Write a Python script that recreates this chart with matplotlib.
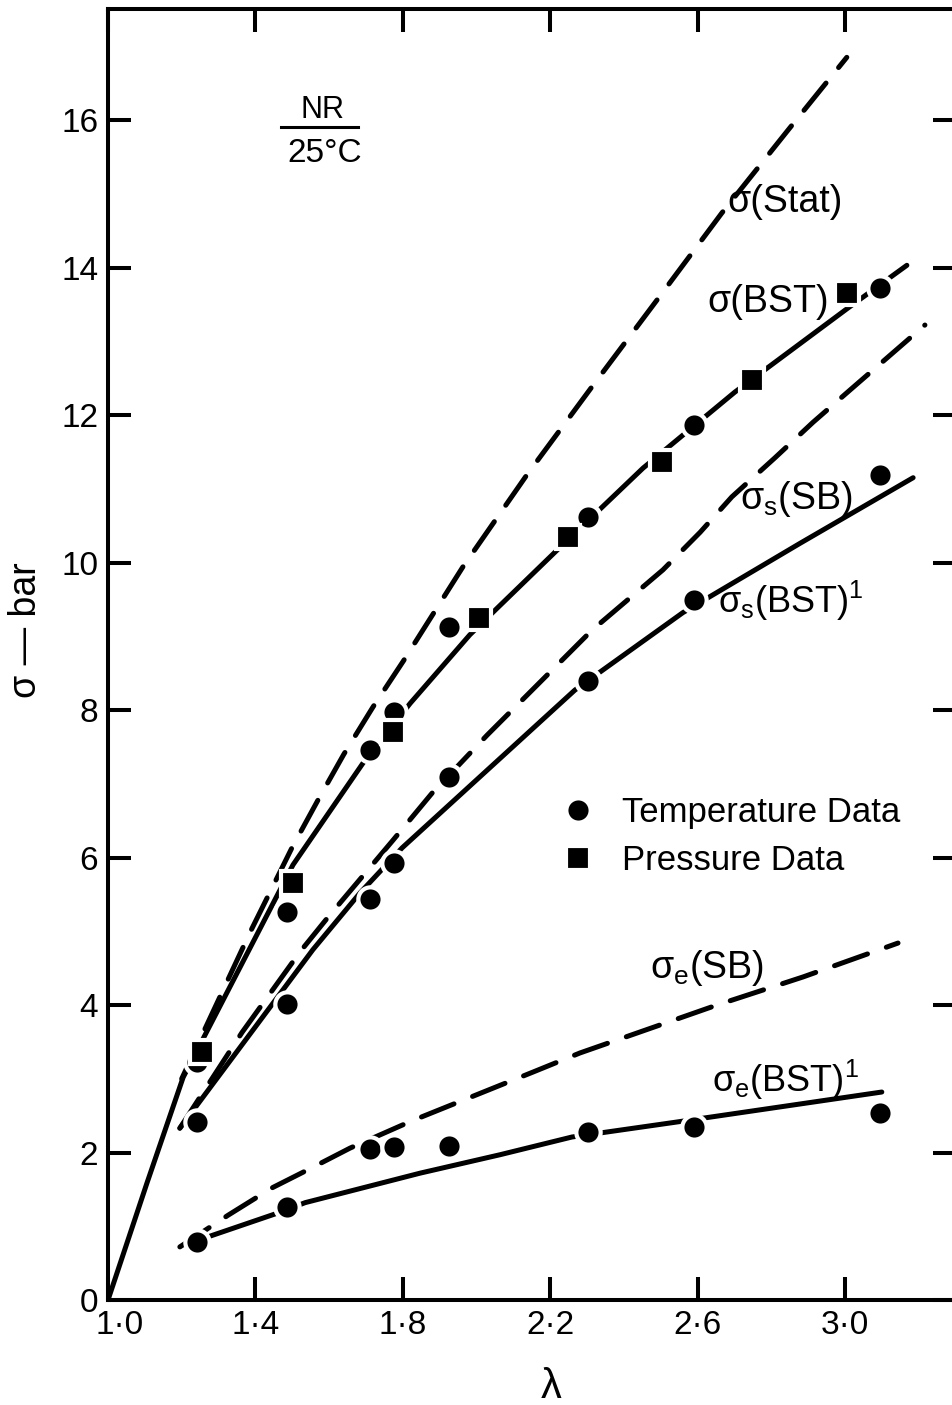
import matplotlib.pyplot as plt
import matplotlib.transforms as mtrans

plt.rcParams['font.family'] = ['Liberation Sans', 'DejaVu Sans']
plt.rcParams['mathtext.fontset'] = 'custom'
plt.rcParams['mathtext.rm'] = 'Liberation Sans'
plt.rcParams['mathtext.it'] = 'Liberation Sans:italic'
plt.rcParams['mathtext.bf'] = 'Liberation Sans:bold'

# theory curves
stat_lam = [1.20, 1.385, 1.499, 1.570, 1.640, 1.719, 1.801, 1.882, 1.963, 2.137, 2.313, 2.490, 2.666, 2.845, 3.005]
stat_sig = [3.00, 4.98, 6.13, 6.78, 7.40, 8.04, 8.66, 9.30, 9.94, 11.19, 12.38, 13.56, 14.74, 15.86, 16.85]

bst_lam = [1.0, 1.106, 1.204, 1.502, 1.692, 1.820, 1.982, 2.056, 2.213, 2.452, 2.701, 3.008, 3.168]
bst_sig = [0.0, 1.59, 3.02, 5.90, 7.28, 8.09, 9.02, 9.38, 10.14, 11.28, 12.31, 13.45, 14.03]

sb_s_lam = [1.195, 1.364, 1.521, 1.597, 1.771, 1.879, 2.029, 2.213, 2.313, 2.506, 2.607, 2.693, 2.810, 2.913, 3.014, 3.217]
sb_s_sig = [2.33, 3.63, 4.72, 5.19, 6.22, 6.87, 7.66, 8.58, 9.08, 9.90, 10.41, 10.89, 11.42, 11.90, 12.34, 13.22]

bst_s_lam = [1.195, 1.556, 1.684, 1.798, 2.267, 2.560, 2.878, 3.185]
bst_s_sig = [2.33, 4.75, 5.52, 6.13, 8.27, 9.32, 10.26, 11.15]

sb_e_lam = [1.195, 1.326, 1.445, 1.556, 1.657, 1.825, 2.153, 2.281, 2.653, 2.886, 3.144]
sb_e_sig = [0.72, 1.15, 1.52, 1.80, 2.06, 2.43, 3.09, 3.35, 4.00, 4.38, 4.84]

bst_e_lam = [1.209, 1.467, 1.535, 1.847, 2.064, 2.259, 2.539, 3.100]
bst_e_sig = [0.75, 1.19, 1.32, 1.72, 1.97, 2.21, 2.41, 2.82]

# temperature data (circles)
temp_lam = [1.242, 1.487, 1.711, 1.776, 1.926, 2.304, 2.590, 3.095]
temp_sig = [3.23, 5.26, 7.46, 7.97, 9.13, 10.62, 11.86, 13.72]
temp_sig_s = [2.41, 4.01, 5.44, 5.93, 7.09, 8.39, 9.49, 11.19]
temp_sig_e = [0.79, 1.26, 2.05, 2.07, 2.09, 2.28, 2.35, 2.54]

# pressure data (squares)
pres_lam = [1.255, 1.502, 1.773, 2.007, 2.248, 2.503, 2.748, 3.005]
pres_sig = [3.36, 5.65, 7.70, 9.25, 10.35, 11.36, 12.47, 13.65]

xticks = [1.0, 1.4, 1.8, 2.2, 2.6, 3.0]
xticklabels = ['1·0', '1·4', '1·8', '2·2', '2·6', '3·0']
yticks = [0, 2, 4, 6, 8, 10, 12, 14, 16]

fig = plt.figure(figsize=(9.52, 14.05), dpi=100)
ax = fig.add_axes([108 / 952, 105 / 1405, 847.5 / 952, 1290.6 / 1405])

lw = 3.6
dash = (0, (7, 4))
ax.plot(stat_lam, stat_sig, color='k', lw=lw, ls=dash, dash_capstyle='round')
ax.plot(bst_lam, bst_sig, color='k', lw=lw, solid_capstyle='round')
ax.plot(sb_s_lam, sb_s_sig, color='k', lw=lw, ls=dash, dash_capstyle='round')
ax.plot(bst_s_lam, bst_s_sig, color='k', lw=lw, solid_capstyle='round')
ax.plot(sb_e_lam, sb_e_sig, color='k', lw=lw, ls=dash, dash_capstyle='round')
ax.plot(bst_e_lam, bst_e_sig, color='k', lw=lw, solid_capstyle='round')

mk = dict(color='k', ls='none', mec='white', mew=3, zorder=4)
h_t, = ax.plot(temp_lam, temp_sig, marker='o', ms=17.5, label='Temperature Data', **mk)
ax.plot(temp_lam, temp_sig_s, marker='o', ms=17.5, **mk)
ax.plot(temp_lam, temp_sig_e, marker='o', ms=17.5, **mk)
h_p, = ax.plot(pres_lam, pres_sig, marker='s', ms=17.5, label='Pressure Data', **mk)

ax.set_xlim(1.0, 3.3)
ax.set_ylim(0, 17.5)
ax.set_xticks(xticks)
ax.set_xticklabels(xticklabels)
ax.set_yticks(yticks)
ax.tick_params(direction='in', length=16.5, width=2.9, top=True, right=True,
               labelsize=24, pad=7)
for s in ax.spines.values():
    s.set_linewidth(2.9)

# nudge the first x label right so it clears the "0"
first = ax.get_xticklabels()[0]
first.set_transform(first.get_transform() +
                    mtrans.ScaledTranslation(8 / 72, 0, fig.dpi_scale_trans))

ax.set_xlabel('λ', fontsize=30)
ax.xaxis.set_label_coords(0.5227, -0.052)
ax.set_ylabel('σ — bar', fontsize=27)
ax.yaxis.set_label_coords(-0.076, 0.519)

# curve labels
fs = 27
ax.text(2.680, 14.75, 'σ(Stat)', fontsize=fs, va='baseline')
ax.text(2.626, 13.40, 'σ(BST)', fontsize=fs, va='baseline')
ax.text(2.715, 10.73, 'σ$_{\\rm s}$(SB)', fontsize=fs, va='baseline')
ax.text(2.655, 9.32, 'σ$_{\\rm s}$(BST)$^{\\rm 1}$', fontsize=26, va='baseline')
ax.text(2.471, 4.37, 'σ$_{\\rm e}$(SB)', fontsize=fs, va='baseline')
ax.text(2.639, 2.82, 'σ$_{\\rm e}$(BST)$^{\\rm 1}$', fontsize=26, va='baseline')

# NR / 25°C
ax.text(0.253, 1 - (110 - 9.4) / 1290.6, 'NR', fontsize=22, ha='center', va='center',
        transform=ax.transAxes)
ax.text(0.256, 1 - (153 - 9.4) / 1290.6, '25°C', fontsize=24, ha='center', va='center',
        transform=ax.transAxes)
ax.plot([(281 - 108) / 847.5, (358 - 108) / 847.5], [1 - (127 - 9.4) / 1290.6] * 2,
        color='k', lw=2.2, transform=ax.transAxes)

ax.legend(handles=[h_t, h_p], loc='upper left', bbox_to_anchor=(561 / 952, 1 - 796 / 1405),
          bbox_transform=fig.transFigure, frameon=False, fontsize=25, numpoints=1,
          handlelength=1.0, handletextpad=0.75, borderpad=0, borderaxespad=0,
          labelspacing=0.43)

fig.savefig('out.png', dpi=100)
